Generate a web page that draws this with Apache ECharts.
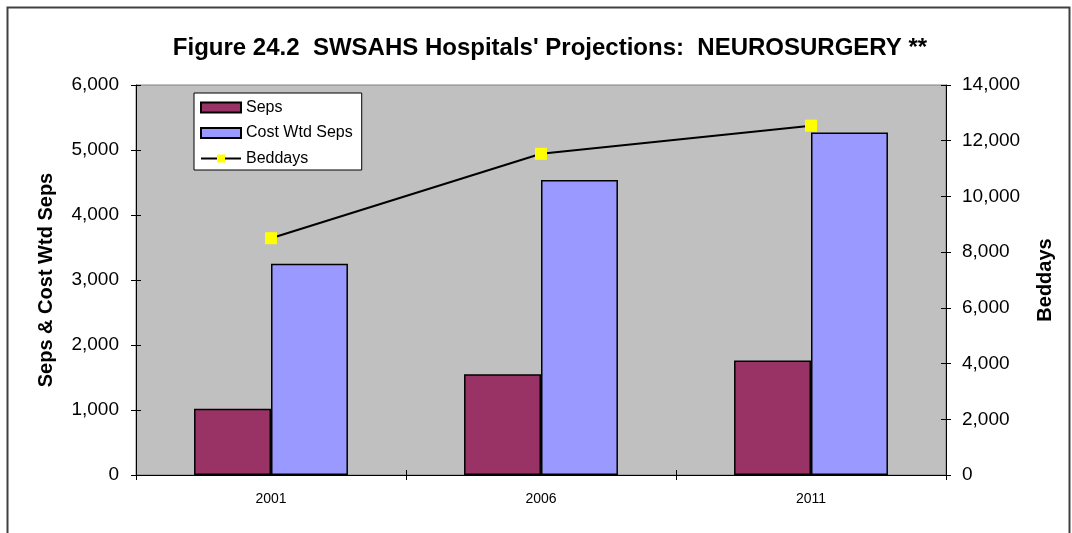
<!DOCTYPE html>
<html>
<head>
<meta charset="utf-8">
<script src="https://cdn.jsdelivr.net/npm/echarts@6/dist/echarts.min.js"></script>
<style>html,body{margin:0;padding:0;background:#fff;}#c{width:1072px;height:533px;}</style>
</head>
<body>
<div id="c"></div>
<script>
var categories = ['2001', '2006', '2011'];
var seps = [1020, 1550, 1760];
var costWtdSeps = [3250, 4540, 5270];
var beddays = [8500, 11530, 12540];
var leftTicks = [0, 1000, 2000, 3000, 4000, 5000, 6000];
var rightTicks = [0, 2000, 4000, 6000, 8000, 10000, 12000, 14000];

var fmt = function (v) { return Number(v).toLocaleString('en-US'); };
var FONT = '"Liberation Sans", Arial, sans-serif';
var tickStyle = { color: '#000', width: 1 };

var chart = echarts.init(document.getElementById('c'));
chart.setOption({
  animation: false,
  textStyle: { fontFamily: FONT },
  graphic: [{
    type: 'rect', left: 5, top: 5, z: -10,
    shape: { width: 1062, height: 600 },
    style: { fill: 'none', stroke: '#404040', lineWidth: 2 }
  }],
  title: {
    text: "Figure 24.2  SWSAHS Hospitals' Projections:  NEUROSURGERY **",
    left: 545, top: 31, textAlign: 'center',
    textStyle: { fontFamily: FONT, fontSize: 24, fontWeight: 'bold', color: '#000' }
  },
  legend: {
    orient: 'vertical', left: 194, top: 93,
    backgroundColor: '#fff', borderColor: '#000', borderWidth: 1,
    padding: [6, 9, 3, 6],
    itemWidth: 40, itemHeight: 10, itemGap: 8.5,
    textStyle: { fontFamily: FONT, fontSize: 16, color: '#000', lineHeight: 17 },
    data: [
      { name: 'Seps', icon: 'rect' },
      { name: 'Cost Wtd Seps', icon: 'rect' },
      { name: 'Beddays' }
    ]
  },
  grid: {
    left: 136, right: 126, top: 85, bottom: 58,
    show: true, backgroundColor: '#C0C0C0', borderColor: '#808080', borderWidth: 1
  },
  xAxis: [{
    type: 'category', data: categories,
    axisLine: { lineStyle: { color: '#000', width: 1 } },
    axisTick: { show: true, length: 5, lineStyle: tickStyle },
    axisLabel: { fontFamily: FONT, fontSize: 14, color: '#000', margin: 17 }
  }, {
    type: 'category', data: categories, position: 'bottom',
    axisLine: { show: false },
    axisTick: { show: true, inside: true, length: 5, lineStyle: tickStyle },
    axisLabel: { show: false }
  }],
  yAxis: [{
    type: 'value', min: 0, max: 6000, interval: 1000,
    name: 'Seps & Cost Wtd Seps', nameLocation: 'middle', nameGap: 80, nameRotate: 90,
    nameTextStyle: { fontFamily: FONT, fontSize: 20, fontWeight: 'bold', color: '#000' },
    axisLine: { show: true, lineStyle: { color: '#000', width: 1 } },
    axisTick: { show: true, length: 5, lineStyle: tickStyle },
    splitLine: { show: false },
    axisLabel: { fontFamily: FONT, fontSize: 19, color: '#000', margin: 17, formatter: fmt }
  }, {
    type: 'value', min: 0, max: 14000, interval: 2000, position: 'right',
    name: 'Beddays', nameLocation: 'middle', nameGap: 89, nameRotate: 90,
    nameTextStyle: { fontFamily: FONT, fontSize: 20, fontWeight: 'bold', color: '#000' },
    axisLine: { show: true, lineStyle: { color: '#000', width: 1 } },
    axisTick: { show: true, length: 5, lineStyle: tickStyle },
    splitLine: { show: false },
    axisLabel: { fontFamily: FONT, fontSize: 19, color: '#000', margin: 16, formatter: fmt }
  }, {
    type: 'value', min: 0, max: 6000, interval: 1000, position: 'left',
    axisLine: { show: false }, splitLine: { show: false }, axisLabel: { show: false },
    axisTick: { show: true, inside: true, length: 5, lineStyle: tickStyle }
  }, {
    type: 'value', min: 0, max: 14000, interval: 2000, position: 'right',
    axisLine: { show: false }, splitLine: { show: false }, axisLabel: { show: false },
    axisTick: { show: true, inside: true, length: 5, lineStyle: tickStyle }
  }],
  series: [{
    name: 'Seps', type: 'bar', data: seps, yAxisIndex: 0,
    barGap: '0%', barCategoryGap: '43%',
    itemStyle: { color: '#993366', borderColor: '#000', borderWidth: 1.5 }
  }, {
    name: 'Cost Wtd Seps', type: 'bar', data: costWtdSeps, yAxisIndex: 0,
    barGap: '0%', barCategoryGap: '43%',
    itemStyle: { color: '#9999FF', borderColor: '#000', borderWidth: 1.5 }
  }, {
    name: 'Beddays', type: 'line', data: beddays, yAxisIndex: 1,
    symbol: 'rect', symbolSize: 12,
    lineStyle: { color: '#000', width: 2 },
    itemStyle: { color: '#FFFF00', borderWidth: 0 }
  }]
});
</script>
</body>
</html>
